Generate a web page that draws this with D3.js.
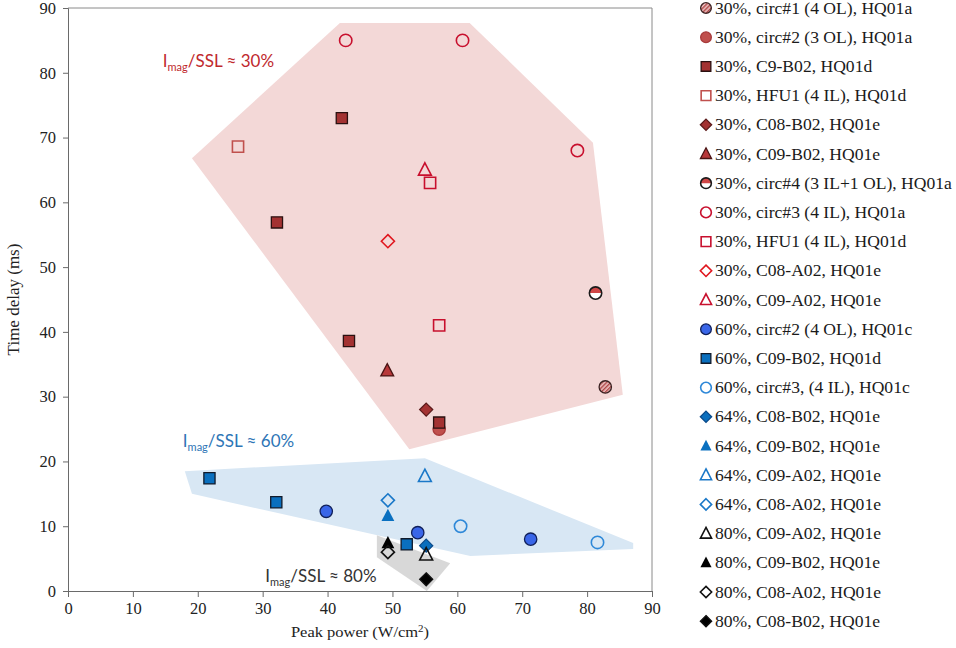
<!DOCTYPE html>
<html>
<head>
<meta charset="utf-8">
<script src="https://cdn.jsdelivr.net/npm/d3@7/dist/d3.min.js"></script>
<style>
  html, body { margin: 0; padding: 0; background: #fff; }
  svg { display: block; }
</style>
</head>
<body>
<svg id="chart" width="956" height="648"></svg>
<script>
// ---- data ----------------------------------------------------------------
const xTicks = [0, 10, 20, 30, 40, 50, 60, 70, 80, 90];
const yTicks = [0, 10, 20, 30, 40, 50, 60, 70, 80, 90];

const seriesLabels = [
  "30%, circ#1 (4 OL), HQ01a",
  "30%, circ#2 (3 OL), HQ01a",
  "30%, C9-B02, HQ01d",
  "30%, HFU1 (4 IL), HQ01d",
  "30%, C08-B02, HQ01e",
  "30%, C09-B02, HQ01e",
  "30%, circ#4 (3 IL+1 OL), HQ01a",
  "30%, circ#3 (4 IL), HQ01a",
  "30%, HFU1 (4 IL), HQ01d",
  "30%, C08-A02, HQ01e",
  "30%, C09-A02, HQ01e",
  "60%, circ#2 (4 OL), HQ01c",
  "60%, C09-B02, HQ01d",
  "60%, circ#3, (4 IL), HQ01c",
  "64%, C08-B02, HQ01e",
  "64%, C09-B02, HQ01e",
  "64%, C09-A02, HQ01e",
  "64%, C08-A02, HQ01e",
  "80%, C09-A02, HQ01e",
  "80%, C09-B02, HQ01e",
  "80%, C08-A02, HQ01e",
  "80%, C08-B02, HQ01e"
];

// [peak power, time delay] for each series, same order as seriesLabels
const seriesPoints = [
  [[82.8, 31.5]],
  [[57.2, 25.0]],
  [[42.2, 73.0], [32.2, 56.9], [43.3, 38.6], [57.2, 26.0]],
  [[26.2, 68.6]],
  [[55.2, 28.0]],
  [[49.2, 34.0]],
  [[81.3, 46.0]],
  [[42.8, 85.0], [60.8, 85.0], [78.5, 68.0]],
  [[55.8, 63.0], [57.2, 41.0]],
  [[49.3, 54.0]],
  [[55.0, 65.0]],
  [[39.8, 12.3], [53.9, 9.0], [71.3, 8.0]],
  [[21.8, 17.4], [32.1, 13.7], [52.2, 7.2]],
  [[60.5, 10.0], [81.6, 7.5]],
  [[55.2, 7.0]],
  [[49.3, 11.6]],
  [[55.0, 17.7]],
  [[49.3, 14.0]],
  [[55.2, 5.6]],
  [[49.3, 7.4]],
  [[49.3, 6.0]],
  [[55.2, 1.8]]
];

// marker shape, fill and stroke per series
const seriesShapes = [
  "circle", "circle", "square", "square", "diamond", "triangle", "halfcircle",
  "circle", "square", "diamond", "triangle",
  "circle", "square", "circle",
  "diamond", "triangle", "triangle", "diamond",
  "triangle", "triangle", "diamond", "diamond"
];
const seriesFills = [
  "url(#hatch)", "#c0504d", "#a33232", "none", "#a33232", "#b8383a", "half",
  "none", "none", "none", "none",
  "#3a66e8", "#0a6fbe", "none",
  "#0a6fbe", "#0a70c0", "none", "none",
  "none", "#000", "none", "#000"
];
const seriesStrokes = [
  "#3a2222", "#a83b3b", "#2a1010", "#c0504d", "#5a1a1a", "#4a1414", "#1a1a1a",
  "#c8102e", "#c8102e", "#e0161e", "#c8102e",
  "#10205a", "#101a2a", "#2e88d8",
  "#0a4a8a", "none", "#1a78c8", "#1a78c8",
  "#111", "none", "#111", "#111"
];

// shaded regions, drawn as polygons in data space
const region30 = [[19.1, 66.8], [41.9, 87.7], [61.9, 87.7], [80.9, 69.2], [85.5, 30.3], [52.6, 21.9]];
const region60 = [[18.0, 18.5], [55.0, 20.5], [87.1, 7.4], [87.1, 6.5], [62.0, 5.4], [19.1, 15.0]];
const region80 = [[47.6, 8.6], [58.9, 4.3], [55.3, 0.0], [47.6, 5.2]];

const regionLabels = [
  { pct: "30%", x: 14.6, y: 80.9, color: "#c0282d" },
  { pct: "60%", x: 17.7, y: 22.2, color: "#2e75b6" },
  { pct: "80%", x: 30.4, y: 1.4, color: "#333333" }
];

// ---- layout ----------------------------------------------------------------
const svg = d3.select("#chart");
const plot = { left: 68, right: 652, top: 8, bottom: 591 };

const x = d3.scaleLinear().domain([0, 90]).range([plot.left, plot.right]);
const y = d3.scaleLinear().domain([0, 90]).range([plot.bottom, plot.top]);

const defs = svg.append("defs");
const hatch = defs.append("pattern")
  .attr("id", "hatch").attr("patternUnits", "userSpaceOnUse")
  .attr("width", 3).attr("height", 3)
  .attr("patternTransform", "rotate(45)");
hatch.append("rect").attr("width", 3).attr("height", 3).attr("fill", "#f0c8c8");
hatch.append("rect").attr("width", 1.5).attr("height", 3).attr("fill", "#b04848");

// ---- regions ---------------------------------------------------------------
const poly = d3.line().x(d => x(d[0])).y(d => y(d[1])).curve(d3.curveLinearClosed);
svg.append("path").attr("d", poly(region30)).attr("fill", "#f3d8d7");
svg.append("path").attr("d", poly(region60)).attr("fill", "#d8e7f4");
svg.append("path").attr("d", poly(region80)).attr("fill", "#d6d6d6").attr("fill-opacity", 0.95);

// ---- frame and axes ---------------------------------------------------------
svg.append("line").attr("x1", plot.left).attr("x2", plot.right)
  .attr("y1", plot.top).attr("y2", plot.top).attr("stroke", "#8a8a8a").attr("stroke-width", 1);
svg.append("line").attr("x1", plot.right).attr("x2", plot.right)
  .attr("y1", plot.top).attr("y2", plot.bottom).attr("stroke", "#8a8a8a").attr("stroke-width", 1);

const serif = "'Liberation Serif', 'Times New Roman', serif";

const xAxis = svg.append("g")
  .attr("transform", `translate(0,${plot.bottom})`)
  .call(d3.axisBottom(x).tickValues(xTicks).tickSize(6).tickPadding(5));
const yAxis = svg.append("g")
  .attr("transform", `translate(${plot.left},0)`)
  .call(d3.axisLeft(y).tickValues(yTicks).tickSize(5).tickPadding(7));

[xAxis, yAxis].forEach(g => {
  g.select(".domain").attr("stroke", "#6a6a6a");
  g.selectAll(".tick line").attr("stroke", "#6a6a6a");
  g.selectAll(".tick text")
    .attr("fill", "#222").style("font-family", serif).style("font-size", "16.5px");
});

svg.append("text")
  .attr("transform", `translate(${(plot.left + plot.right) / 2},637) scale(1.1,1)`)
  .attr("text-anchor", "middle")
  .style("font-family", serif).style("font-size", "15px").attr("fill", "#222")
  .text("Peak power (W/cm")
  .append("tspan").attr("baseline-shift", "super").style("font-size", "10px").text("2")
  .select(function () { return this.parentNode; })
  .append("tspan").text(")");

svg.append("text")
  .attr("transform", `translate(19,${(plot.top + plot.bottom) / 2}) rotate(-90)`)
  .attr("text-anchor", "middle")
  .style("font-family", serif).style("font-size", "17px").attr("fill", "#222")
  .text("Time delay (ms)");

// ---- region labels ---------------------------------------------------------
const sans = "Lato, 'Open Sans', sans-serif";
regionLabels.forEach(l => {
  const t = svg.append("text")
    .attr("x", x(l.x)).attr("y", y(l.y))
    .style("font-family", sans).style("font-size", "17px").attr("fill", l.color);
  t.append("tspan").text("I");
  t.append("tspan").attr("dy", 4).style("font-size", "11px").text("mag");
  t.append("tspan").attr("dy", -4).text("/SSL \u2248 " + l.pct);
});

// ---- markers ---------------------------------------------------------------
const diamondSym = {
  draw(ctx, size) {
    const r = Math.sqrt(size / 2);
    ctx.moveTo(0, -r); ctx.lineTo(r, 0); ctx.lineTo(0, r); ctx.lineTo(-r, 0); ctx.closePath();
  }
};
const triangleSym = {
  draw(ctx, size) {
    const s = Math.sqrt(size);
    const h = s * 0.9;
    ctx.moveTo(0, -h * 0.62); ctx.lineTo(s / 2, h * 0.45); ctx.lineTo(-s / 2, h * 0.45); ctx.closePath();
  }
};
const symbolSizes = { circle: 120, halfcircle: 120, square: 125, diamond: 85, triangle: 165 };
const symbolTypes = {
  circle: d3.symbolCircle, halfcircle: d3.symbolCircle, square: d3.symbolSquare,
  diamond: diamondSym, triangle: triangleSym
};

function drawMarker(g, i, cx, cy, scale) {
  const shape = seriesShapes[i];
  const size = symbolSizes[shape] * (scale || 1);
  const path = d3.symbol().type(symbolTypes[shape]).size(size)();
  const grp = g.append("g").attr("transform", `translate(${cx},${cy})`);
  const fill = seriesFills[i];
  const stroke = seriesStrokes[i];
  if (fill === "half") {
    const r = Math.sqrt(size / Math.PI);
    grp.append("path").attr("d", path).attr("fill", "#fff");
    grp.append("path")
      .attr("d", `M${-r},0 A${r},${r} 0 0 1 ${r},0 Z`)
      .attr("fill", "#d04848");
    grp.append("path").attr("d", path).attr("fill", "none")
      .attr("stroke", stroke).attr("stroke-width", 1.6);
  } else {
    grp.append("path").attr("d", path)
      .attr("fill", fill)
      .attr("stroke", stroke)
      .attr("stroke-width", fill === "none" ? 1.6 : 1.3)
      .attr("stroke-linejoin", "miter");
  }
}

const marks = svg.append("g");
seriesPoints.forEach((pts, i) => {
  pts.forEach(p => drawMarker(marks, i, x(p[0]), y(p[1])));
});

// ---- legend ----------------------------------------------------------------
const legend = svg.append("g");
const legendTop = 8, legendStep = 29.2;
seriesLabels.forEach((label, i) => {
  const ly = legendTop + i * legendStep;
  drawMarker(legend, i, 706, ly, 0.75);
  legend.append("text")
    .attr("transform", `translate(715,${ly + 5.5}) scale(1.1,1)`)
    .style("font-family", serif).style("font-size", "16px").attr("fill", "#1a1a1a")
    .text(label);
});
</script>
</body>
</html>
